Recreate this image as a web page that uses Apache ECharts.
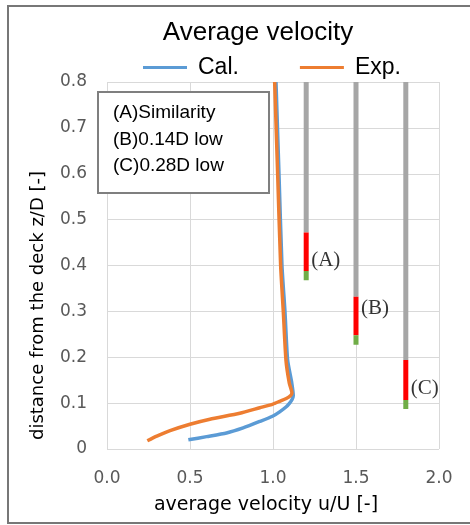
<!DOCTYPE html>
<html>
<head>
<meta charset="utf-8">
<script src="https://cdn.jsdelivr.net/npm/echarts@6/dist/echarts.min.js"></script>
<style>
  html, body { margin: 0; padding: 0; background: #fff; }
</style>
</head>
<body>
<div id="chart" style="width: 470px; height: 525px;"></div>
<script>
// calculated profile (blue)
const calU = [0.49, 0.60, 0.72, 0.82, 0.92, 1.00, 1.04, 1.08, 1.10, 1.115, 1.122, 1.113, 1.088, 1.072, 1.054, 1.036, 1.018];
const calZ = [0.02, 0.027, 0.035, 0.046, 0.06, 0.072, 0.081, 0.092, 0.10, 0.108, 0.116, 0.144, 0.194, 0.30, 0.40, 0.60, 0.80];
// experimental profile (orange)
const expU = [0.243, 0.30, 0.38, 0.50, 0.62, 0.80, 0.92, 1.00, 1.04, 1.08, 1.105, 1.114, 1.098, 1.078, 1.062, 1.046, 1.028, 1.01];
const expZ = [0.018, 0.028, 0.04, 0.054, 0.065, 0.078, 0.09, 0.098, 0.104, 0.11, 0.116, 0.122, 0.144, 0.194, 0.30, 0.40, 0.60, 0.80];

// deck height markers (A)(B)(C)
const markU = [1.2, 1.5, 1.8];
const grayTop = [0.8, 0.8, 0.8];
const redTop = [0.472, 0.332, 0.194];
const greenTop = [0.388, 0.248, 0.107];
const greenBottom = [0.368, 0.227, 0.087];
const markNames = ['(A)', '(B)', '(C)'];
const markLabelZ = [0.412, 0.307, 0.133];

const boxLines = ['(A)Similarity', '(B)0.14D low', '(C)0.28D low'];

let chart = echarts.init(document.getElementById('chart'));

function pairs(us, zs) {
  return us.map((u, i) => [u, zs[i]]);
}

// one short vertical segment per marker part
let markSeries = [];
markU.forEach((u, i) => {
  [[grayTop[i], redTop[i], '#a6a6a6'], [redTop[i], greenTop[i], '#ff0000'], [greenTop[i], greenBottom[i], '#70ad47']].forEach(p => {
    markSeries.push({
      type: 'line',
      data: [[u, p[0]], [u, p[1]]],
      symbol: 'none',
      silent: true,
      lineStyle: { color: p[2], width: 5, cap: 'butt' },
      z: 3
    });
  });
});

let option = {
  animation: false,
  backgroundColor: '#fff',
  title: {
    text: 'Average velocity',
    left: 253,
    textAlign: 'center',
    top: 15,
    textStyle: { fontFamily: 'Liberation Sans', fontSize: 26, fontWeight: 'normal', color: '#000' }
  },
  legend: {
    data: ['Cal.', 'Exp.'],
    left: 138,
    top: 51,
    icon: 'rect',
    itemWidth: 44,
    itemHeight: 3,
    itemGap: 61,
    textStyle: { fontFamily: 'Liberation Sans', fontSize: 23, color: '#000', padding: [0, 0, 0, 6] }
  },
  grid: { left: 107, right: 31, top: 82, bottom: 76 },
  xAxis: {
    type: 'value',
    min: 0,
    max: 2,
    interval: 0.5,
    name: 'average velocity u/U [-]',
    nameLocation: 'middle',
    nameGap: 47,
    nameTextStyle: { fontFamily: 'DejaVu Sans', fontSize: 19, color: '#000', padding: [0, 14, 0, 0] },
    axisLine: { show: false },
    axisTick: { show: false },
    axisLabel: {
      margin: 21,
      fontFamily: 'DejaVu Sans',
      fontSize: 17,
      color: '#595959',
      formatter: v => v.toFixed(1)
    },
    splitLine: { show: true, lineStyle: { color: '#d9d9d9', width: 1 } }
  },
  yAxis: {
    type: 'value',
    min: 0,
    max: 0.8,
    interval: 0.1,
    name: 'distance from the deck z/D [-]',
    nameLocation: 'middle',
    nameGap: 60,
    nameTextStyle: { fontFamily: 'DejaVu Sans', fontSize: 18, color: '#000', padding: [0, 80, 0, 0] },
    axisLine: { show: false },
    axisTick: { show: false },
    axisLabel: {
      margin: 20,
      fontFamily: 'DejaVu Sans',
      fontSize: 17,
      color: '#595959',
      formatter: v => (v === 0 ? '0' : v.toFixed(1))
    },
    splitLine: { show: true, lineStyle: { color: '#d9d9d9', width: 1 } }
  },
  series: [
    {
      name: 'Cal.',
      type: 'line',
      data: pairs(calU, calZ),
      symbol: 'none',
      smooth: 0.2,
      color: '#5b9bd5',
      lineStyle: { color: '#5b9bd5', width: 3.5, join: 'round' },
      z: 4
    },
    {
      name: 'Exp.',
      type: 'line',
      data: pairs(expU, expZ),
      symbol: 'none',
      smooth: 0.2,
      color: '#ed7d31',
      lineStyle: { color: '#ed7d31', width: 3.5, join: 'round' },
      z: 5
    },
    ...markSeries,
    {
      type: 'scatter',
      silent: true,
      symbolSize: 0,
      data: markU.map((u, i) => ({ value: [u, markLabelZ[i]], name: markNames[i] })),
      label: {
        show: true,
        position: 'right',
        distance: 5,
        formatter: p => p.name,
        fontFamily: 'Liberation Serif',
        fontSize: 21,
        color: '#000'
      },
      z: 6
    }
  ],
  graphic: [
    {
      type: 'rect',
      shape: { x: 8, y: 6, width: 470, height: 517 },
      style: { fill: 'none', stroke: '#777', lineWidth: 2 },
      silent: true,
      z: 100
    },
    {
      type: 'rect',
      shape: { x: 98, y: 92, width: 171, height: 101 },
      style: { fill: '#fff', stroke: '#7f7f7f', lineWidth: 2 },
      silent: true,
      z: 100
    },
    ...boxLines.map((t, i) => ({
      type: 'text',
      x: 113,
      y: 113 + i * 26.5,
      silent: true,
      z: 101,
      style: {
        text: t,
        fontFamily: 'Liberation Sans',
        fontSize: 19,
        fill: '#000',
        verticalAlign: 'middle'
      }
    }))
  ]
};

chart.setOption(option);
window.addEventListener('resize', () => {
  chart.resize();
});
</script>
</body>
</html>
